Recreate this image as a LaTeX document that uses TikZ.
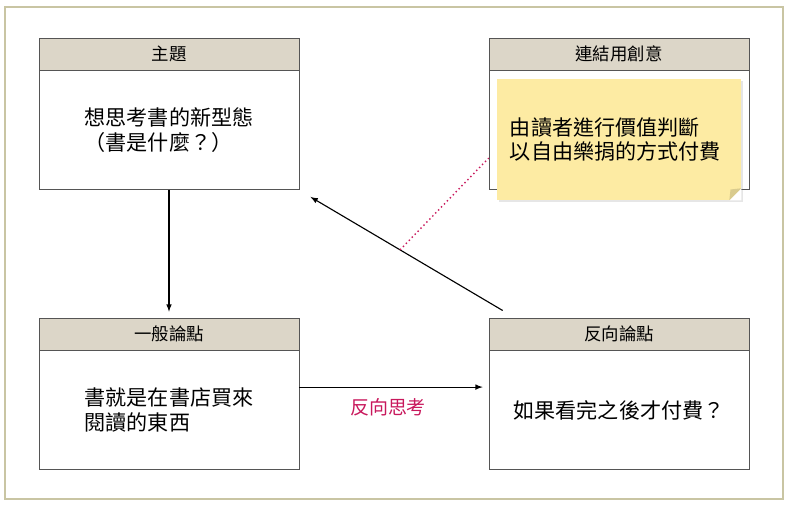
\documentclass[tikz,border=0pt]{standalone}
\usepackage{fontspec}
\setmainfont{Noto Sans CJK TC}
\usetikzlibrary{positioning,arrows,shadows}

\definecolor{framecol}{HTML}{C9C5A3}
\definecolor{boxline}{HTML}{555555}
\definecolor{headfill}{HTML}{DCD6C8}
\definecolor{notefill}{HTML}{FDEBA3}
\definecolor{foldfill}{HTML}{D9CB8E}
\definecolor{linkred}{HTML}{C8185C}

\begin{document}
\begin{tikzpicture}[x=0.025cm, y=-0.025cm, >=latex, node distance=0pt,
    head/.style={draw=boxline, fill=headfill, minimum width=6.5cm, minimum height=0.8cm,
      inner sep=0pt, font=\fontsize{12.4}{14}\selectfont},
    body/.style={draw=boxline, fill=white, minimum width=6.5cm, minimum height=2.975cm,
      align=left, font=\fontsize{15}{17.5}\selectfont},
    note/.style={fill=notefill, minimum width=6.1cm, minimum height=3.025cm, text width=5.45cm,
      inner xsep=0.325cm, align=left, font=\fontsize{15}{17.5}\selectfont,
      drop shadow={shadow xshift=1.5pt, shadow yshift=-1.5pt, opacity=0.2}},
    link/.style={->, thick, shorten >=0.15cm},
    hint/.style={dotted, line width=1pt, draw=linkred}]
    \useasboundingbox (0,0) rectangle (792,510);
    \draw[framecol, line width=0.8pt] (5,7) rectangle (783,499);

    % upper row
    \node[head] (topic-h) at (169,54) {主題};
    \node[body, below=of topic-h] (topic) {想思考書的新型態\\（書是什麼？）};
    \node[head] (idea-h) at (619,54) {連結用創意};
    \node[body, below=of idea-h] (idea) {};
    \node[note] (note) at (619,139.5) {由讀者進行價值判斷\\以自由樂捐的方式付費};
    \fill[white] ([yshift=0.3cm]note.south east) -- (note.south east) -- ([xshift=-0.3cm]note.south east) -- cycle;
    \fill[foldfill] ([yshift=0.3cm]note.south east) -- ([xshift=-0.3cm]note.south east)
      -- ([shift={(-0.27cm,0.27cm)}]note.south east) -- cycle;

    % lower row
    \node[head] (general-h) at (169,334) {一般論點};
    \node[body, below=of general-h] (general) {書就是在書店買來\\閱讀的東西};
    \node[head] (reverse-h) at (619,334) {反向論點};
    \node[body, below=of reverse-h, align=center] (reverse) {如果看完之後才付費？};

    \draw[link] (topic.south) -- (general-h.north);
    \draw[link] ([yshift=0.575cm]general.east) -- ([yshift=0.575cm]reverse.west)
      node[midway, below=0.15cm, xshift=-0.15cm, text=linkred, font=\fontsize{13.5}{15}\selectfont] {反向思考};
    \draw[link] ([shift={(0.35cm,0.18cm)}]reverse-h.north west) -- ([shift={(0.15cm,-0.1cm)}]topic.south east)
      coordinate[pos=0.52] (cross);
    \draw[hint] (cross) -- ([yshift=-0.7cm]idea.west);
\end{tikzpicture}
\end{document}
